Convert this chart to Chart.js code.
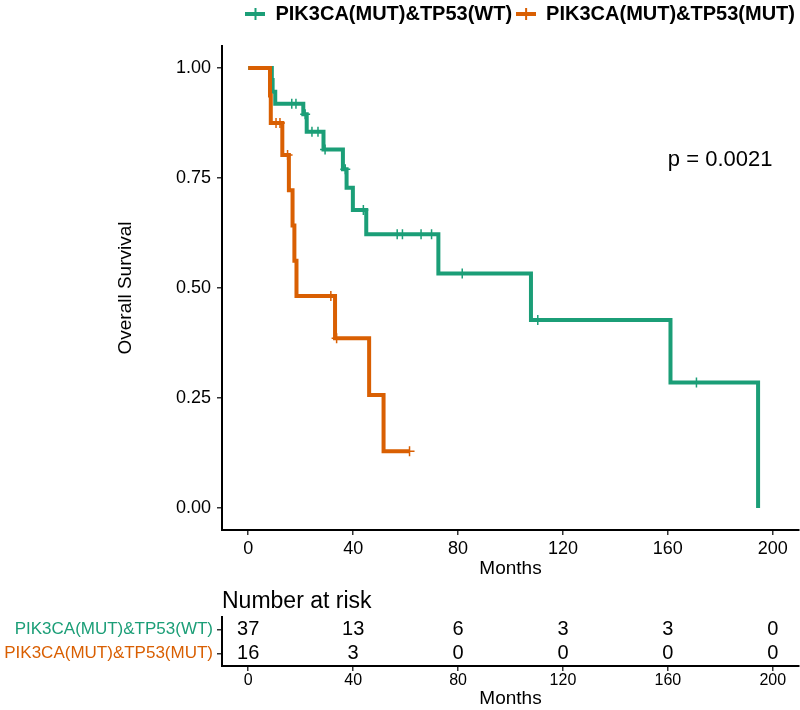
<!DOCTYPE html>
<html>
<head>
<meta charset="utf-8">
<script src="https://cdn.jsdelivr.net/npm/chart.js@4.4.1/dist/chart.umd.min.js"></script>
<style>
  body { margin: 0; background: #fff; }
  #survBox { position: absolute; left: 0; top: 0; width: 800px; height: 580px; }
  #riskBox { position: absolute; left: 0; top: 580px; width: 800px; height: 130px; }
</style>
</head>
<body>
<div id="survBox"><canvas id="survChart"></canvas></div>
<div id="riskBox"><canvas id="riskChart"></canvas></div>
<script>
const groups = ['PIK3CA(MUT)&TP53(WT)', 'PIK3CA(MUT)&TP53(MUT)'];
const colors = ['#1B9E77', '#D95F02'];

// step curve: time of each drop and survival after it
const wtTimes = [0, 9.0, 9.3, 10.3, 21.0, 22.3, 28.7, 36.1, 37.5, 39.9, 45.0, 72.5, 107.8, 161.0, 194.4];
const wtSurv = [1, 0.973, 0.946, 0.919, 0.895, 0.855, 0.815, 0.770, 0.728, 0.677, 0.622, 0.533, 0.427, 0.285, 0];
const wtCensorTimes = [16.6, 18.2, 21.7, 24.3, 26.6, 29.3, 37.0, 43.9, 56.8, 58.8, 65.9, 69.9, 81.6, 110.4, 170.9];
const wtCensorSurv = [0.919, 0.919, 0.895, 0.855, 0.855, 0.815, 0.770, 0.677, 0.622, 0.622, 0.622, 0.622, 0.533, 0.427, 0.285];

const mutTimes = [0, 8.3, 8.6, 13.0, 15.5, 16.9, 17.6, 18.4, 33.1, 46.1, 51.6, 61.5];
const mutSurv = [1, 0.9375, 0.875, 0.802, 0.722, 0.642, 0.562, 0.482, 0.386, 0.257, 0.129, 0.129];
const mutCensorTimes = [10.6, 12.1, 15.0, 31.5, 33.7, 61.5];
const mutCensorSurv = [0.875, 0.875, 0.802, 0.482, 0.386, 0.129];

const xTicks = [0, 40, 80, 120, 160, 200];
const yTicks = [0, 0.25, 0.5, 0.75, 1];
const riskTimes = [0, 40, 80, 120, 160, 200];
const riskWT = [37, 13, 6, 3, 3, 0];
const riskMUT = [16, 3, 0, 0, 0, 0];
const pValue = 'p = 0.0021';

const fontFamily = '"Liberation Sans", Arial, sans-serif';
Chart.defaults.font.family = fontFamily;
Chart.defaults.color = '#000';

function toPoints(xs, ys) {
    return xs.map((x, i) => ({ x: x, y: ys[i] }));
}

function legendSymbol(color) {
    const c = document.createElement('canvas');
    c.width = 20;
    c.height = 12;
    const g = c.getContext('2d');
    g.fillStyle = color;
    g.fillRect(0, 4, 20, 4);
    g.fillRect(9, 0, 2, 12);
    return c;
}

function lineSet(label, times, surv, color) {
    return {
        label: label,
        data: toPoints(times, surv),
        showLine: true,
        stepped: true,
        borderColor: color,
        backgroundColor: color,
        borderWidth: 4,
        pointRadius: 0,
        pointStyle: legendSymbol(color),
        isCensor: false
    };
}

function censorSet(label, times, surv, color) {
    return {
        label: label,
        data: toPoints(times, surv),
        showLine: false,
        pointStyle: 'cross',
        pointRadius: 5,
        borderWidth: 1.5,
        borderColor: color,
        backgroundColor: color,
        isCensor: true
    };
}

const axisGrid = {
    display: true,
    drawOnChartArea: false,
    drawTicks: true,
    tickLength: 5,
    color: '#333',
    tickColor: '#333',
    lineWidth: 1.5
};
const axisBorder = { display: true, color: '#000', width: 2 };

const legendHeight = {
    id: 'legendHeight',
    beforeInit(chart) {
        const fit = chart.legend.fit;
        chart.legend.fit = function () {
            fit.call(this);
            this.height = 46;
        };
    }
};

const pLabel = {
    id: 'pLabel',
    afterDatasetsDraw(chart) {
        const { ctx, scales: { x, y } } = chart;
        ctx.save();
        ctx.font = '22px ' + fontFamily;
        ctx.fillStyle = '#000';
        ctx.textBaseline = 'middle';
        ctx.fillText(pValue, x.getPixelForValue(160), y.getPixelForValue(0.79));
        ctx.restore();
    }
};

// orange first so it is drawn on top
new Chart(document.getElementById('survChart'), {
    type: 'scatter',
    data: {
        datasets: [
            lineSet(groups[1], mutTimes, mutSurv, colors[1]),
            censorSet(groups[1], mutCensorTimes, mutCensorSurv, colors[1]),
            lineSet(groups[0], wtTimes, wtSurv, colors[0]),
            censorSet(groups[0], wtCensorTimes, wtCensorSurv, colors[0])
        ]
    },
    options: {
        responsive: true,
        maintainAspectRatio: false,
        animation: false,
        events: [],
        layout: { autoPadding: false, padding: { left: 110, right: 1, top: 0, bottom: 0 } },
        plugins: {
            tooltip: { enabled: false },
            legend: {
                position: 'top',
                align: 'end',
                labels: {
                    usePointStyle: true,
                    pointStyleWidth: 20,
                    padding: 4,
                    color: '#000',
                    font: { size: 20, weight: 'bold' },
                    filter: (item, data) => !data.datasets[item.datasetIndex].isCensor,
                    sort: (a, b) => b.datasetIndex - a.datasetIndex
                }
            }
        },
        scales: {
            x: {
                type: 'linear',
                min: -10,
                max: 210,
                afterBuildTicks: s => { s.ticks = xTicks.map(v => ({ value: v })); },
                afterFit: s => { s.height = 50; },
                ticks: { color: '#000', font: { size: 18 }, padding: 3, maxRotation: 0 },
                grid: axisGrid,
                border: axisBorder,
                title: { display: true, text: 'Months', color: '#000', font: { size: 19 }, padding: { top: 0, bottom: 0 } }
            },
            y: {
                type: 'linear',
                min: -0.05,
                max: 1.05,
                afterBuildTicks: s => { s.ticks = yTicks.map(v => ({ value: v })); },
                afterFit: s => { s.width = 112; },
                ticks: { color: '#000', font: { size: 18 }, padding: 6, callback: v => v.toFixed(2) },
                grid: axisGrid,
                border: axisBorder,
                title: { display: true, text: 'Overall Survival', color: '#000', font: { size: 19 } }
            }
        }
    },
    plugins: [legendHeight, pLabel]
});

const riskNumbers = {
    id: 'riskNumbers',
    afterDraw(chart) {
        const { ctx, scales: { x, y }, chartArea } = chart;
        ctx.save();
        ctx.fillStyle = '#000';
        ctx.font = '20px ' + fontFamily;
        ctx.textAlign = 'center';
        ctx.textBaseline = 'middle';
        [riskWT, riskMUT].forEach((row, r) => {
            row.forEach((n, i) => {
                ctx.fillText(String(n), x.getPixelForValue(riskTimes[i]), y.getPixelForValue(r));
            });
        });
        ctx.textAlign = 'left';
        ctx.font = '23px ' + fontFamily;
        ctx.fillText('Number at risk', chartArea.left, chartArea.top - 15);
        ctx.restore();
    }
};

new Chart(document.getElementById('riskChart'), {
    type: 'scatter',
    data: { datasets: [] },
    options: {
        responsive: true,
        maintainAspectRatio: false,
        animation: false,
        events: [],
        layout: { autoPadding: false, padding: { left: 0, right: 1, top: 37, bottom: 0 } },
        plugins: { legend: { display: false }, tooltip: { enabled: false } },
        scales: {
            x: {
                type: 'linear',
                min: -10,
                max: 210,
                afterBuildTicks: s => { s.ticks = xTicks.map(v => ({ value: v })); },
                afterFit: s => { s.height = 44; },
                ticks: { color: '#000', font: { size: 16 }, padding: 0, maxRotation: 0 },
                grid: axisGrid,
                border: axisBorder,
                title: { display: true, text: 'Months', color: '#000', font: { size: 19 }, padding: 0 }
            },
            y: {
                type: 'category',
                labels: groups,
                offset: true,
                afterFit: s => { s.width = 222; },
                ticks: { color: c => colors[c.index], font: { size: 17 }, padding: 4 },
                grid: axisGrid,
                border: axisBorder
            }
        }
    },
    plugins: [riskNumbers]
});
</script>
</body>
</html>
